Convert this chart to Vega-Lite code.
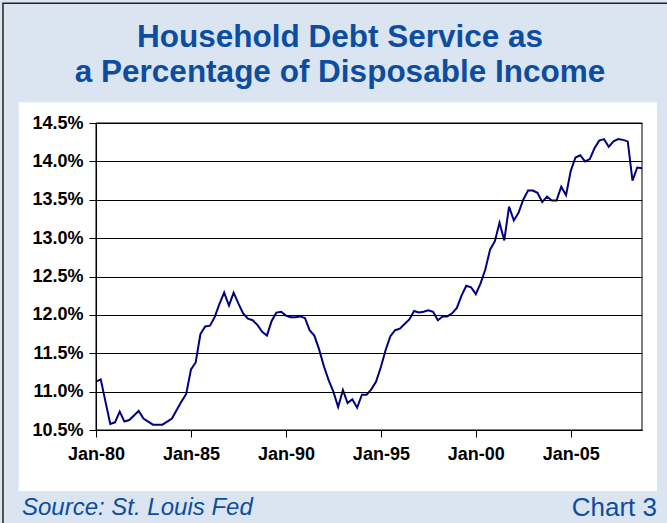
{
  "$schema": "https://vega.github.io/schema/vega-lite/v6.json",
  "width": 546,
  "height": 307,
  "autosize": {"type": "none"},
  "padding": {"left": 96, "top": 123, "right": 25, "bottom": 93},
  "background": "#dbe5f1",
  "title": {
    "text": ["Household Debt Service as", "a Percentage of Disposable Income"],
    "font": "Liberation Sans",
    "fontSize": 31.5,
    "fontWeight": "bold",
    "color": "#0c4da2",
    "anchor": "middle",
    "frame": "group",
    "dx": -29,
    "lineHeight": 35,
    "offset": -86
  },
  "config": {
    "view": {"stroke": null, "fill": "white"},
    "axis": {
      "labelFont": "Liberation Sans",
      "labelFontWeight": "bold",
      "labelFontSize": 18,
      "labelColor": "black",
      "labelOverlap": false,
      "labelFlush": false,
      "domainColor": "black",
      "tickColor": "black",
      "tickSize": 7,
      "gridColor": "black",
      "gridOpacity": 1,
      "gridWidth": 1,
      "title": null
    }
  },
  "resolve": {"scale": {"x": "independent", "y": "independent"}},
  "datasets": {
    "dsr": [
      {"date": "1980-01-01", "dsr": 11.13}, {"date": "1980-04-01", "dsr": 11.16}, {"date": "1980-07-01", "dsr": 10.87}, {"date": "1980-10-01", "dsr": 10.58},
      {"date": "1981-01-01", "dsr": 10.60}, {"date": "1981-04-01", "dsr": 10.74}, {"date": "1981-07-01", "dsr": 10.61}, {"date": "1981-10-01", "dsr": 10.63},
      {"date": "1982-01-01", "dsr": 10.69}, {"date": "1982-04-01", "dsr": 10.75}, {"date": "1982-07-01", "dsr": 10.65}, {"date": "1982-10-01", "dsr": 10.61},
      {"date": "1983-01-01", "dsr": 10.57}, {"date": "1983-04-01", "dsr": 10.57}, {"date": "1983-07-01", "dsr": 10.57}, {"date": "1983-10-01", "dsr": 10.61},
      {"date": "1984-01-01", "dsr": 10.65}, {"date": "1984-04-01", "dsr": 10.76}, {"date": "1984-07-01", "dsr": 10.87}, {"date": "1984-10-01", "dsr": 10.97},
      {"date": "1985-01-01", "dsr": 11.29}, {"date": "1985-04-01", "dsr": 11.38}, {"date": "1985-07-01", "dsr": 11.75}, {"date": "1985-10-01", "dsr": 11.85},
      {"date": "1986-01-01", "dsr": 11.86}, {"date": "1986-04-01", "dsr": 11.97}, {"date": "1986-07-01", "dsr": 12.14}, {"date": "1986-10-01", "dsr": 12.29},
      {"date": "1987-01-01", "dsr": 12.12}, {"date": "1987-04-01", "dsr": 12.29}, {"date": "1987-07-01", "dsr": 12.15}, {"date": "1987-10-01", "dsr": 12.02},
      {"date": "1988-01-01", "dsr": 11.95}, {"date": "1988-04-01", "dsr": 11.93}, {"date": "1988-07-01", "dsr": 11.87}, {"date": "1988-10-01", "dsr": 11.78},
      {"date": "1989-01-01", "dsr": 11.73}, {"date": "1989-04-01", "dsr": 11.92}, {"date": "1989-07-01", "dsr": 12.03}, {"date": "1989-10-01", "dsr": 12.04},
      {"date": "1990-01-01", "dsr": 11.99}, {"date": "1990-04-01", "dsr": 11.97}, {"date": "1990-07-01", "dsr": 11.97}, {"date": "1990-10-01", "dsr": 11.98},
      {"date": "1991-01-01", "dsr": 11.96}, {"date": "1991-04-01", "dsr": 11.80}, {"date": "1991-07-01", "dsr": 11.73}, {"date": "1991-10-01", "dsr": 11.55},
      {"date": "1992-01-01", "dsr": 11.33}, {"date": "1992-04-01", "dsr": 11.15}, {"date": "1992-07-01", "dsr": 11.00}, {"date": "1992-10-01", "dsr": 10.80},
      {"date": "1993-01-01", "dsr": 11.02}, {"date": "1993-04-01", "dsr": 10.85}, {"date": "1993-07-01", "dsr": 10.90}, {"date": "1993-10-01", "dsr": 10.79},
      {"date": "1994-01-01", "dsr": 10.96}, {"date": "1994-04-01", "dsr": 10.96}, {"date": "1994-07-01", "dsr": 11.03}, {"date": "1994-10-01", "dsr": 11.13},
      {"date": "1995-01-01", "dsr": 11.32}, {"date": "1995-04-01", "dsr": 11.54}, {"date": "1995-07-01", "dsr": 11.72}, {"date": "1995-10-01", "dsr": 11.80},
      {"date": "1996-01-01", "dsr": 11.82}, {"date": "1996-04-01", "dsr": 11.88}, {"date": "1996-07-01", "dsr": 11.94}, {"date": "1996-10-01", "dsr": 12.05},
      {"date": "1997-01-01", "dsr": 12.03}, {"date": "1997-04-01", "dsr": 12.04}, {"date": "1997-07-01", "dsr": 12.06}, {"date": "1997-10-01", "dsr": 12.04},
      {"date": "1998-01-01", "dsr": 11.93}, {"date": "1998-04-01", "dsr": 11.98}, {"date": "1998-07-01", "dsr": 11.98}, {"date": "1998-10-01", "dsr": 12.02},
      {"date": "1999-01-01", "dsr": 12.09}, {"date": "1999-04-01", "dsr": 12.25}, {"date": "1999-07-01", "dsr": 12.38}, {"date": "1999-10-01", "dsr": 12.36},
      {"date": "2000-01-01", "dsr": 12.27}, {"date": "2000-04-01", "dsr": 12.41}, {"date": "2000-07-01", "dsr": 12.59}, {"date": "2000-10-01", "dsr": 12.85},
      {"date": "2001-01-01", "dsr": 12.96}, {"date": "2001-04-01", "dsr": 13.20}, {"date": "2001-07-01", "dsr": 12.97}, {"date": "2001-10-01", "dsr": 13.41},
      {"date": "2002-01-01", "dsr": 13.23}, {"date": "2002-04-01", "dsr": 13.33}, {"date": "2002-07-01", "dsr": 13.50}, {"date": "2002-10-01", "dsr": 13.62},
      {"date": "2003-01-01", "dsr": 13.62}, {"date": "2003-04-01", "dsr": 13.59}, {"date": "2003-07-01", "dsr": 13.47}, {"date": "2003-10-01", "dsr": 13.54},
      {"date": "2004-01-01", "dsr": 13.49}, {"date": "2004-04-01", "dsr": 13.49}, {"date": "2004-07-01", "dsr": 13.67}, {"date": "2004-10-01", "dsr": 13.56},
      {"date": "2005-01-01", "dsr": 13.88}, {"date": "2005-04-01", "dsr": 14.05}, {"date": "2005-07-01", "dsr": 14.08}, {"date": "2005-10-01", "dsr": 14.00},
      {"date": "2006-01-01", "dsr": 14.03}, {"date": "2006-04-01", "dsr": 14.17}, {"date": "2006-07-01", "dsr": 14.27}, {"date": "2006-10-01", "dsr": 14.29},
      {"date": "2007-01-01", "dsr": 14.19}, {"date": "2007-04-01", "dsr": 14.26}, {"date": "2007-07-01", "dsr": 14.29}, {"date": "2007-10-01", "dsr": 14.28},
      {"date": "2008-01-01", "dsr": 14.26}, {"date": "2008-04-01", "dsr": 13.75}, {"date": "2008-07-01", "dsr": 13.92}, {"date": "2008-10-01", "dsr": 13.91}
    ]
  },
  "layer": [
    {
      "data": {"values": [{"panel": "outer border"}]},
      "mark": {"type": "rect", "fill": null, "stroke": "#222222", "strokeWidth": 1.5, "clip": false},
      "encoding": {
        "x": {"datum": {"year": 1975, "month": 2, "date": 7, "utc": true}, "type": "temporal", "axis": null,
              "scale": {"type": "utc", "domain": [{"year": 1980, "month": 1, "date": 1, "utc": true}, {"year": 2008, "month": 10, "date": 1, "utc": true}]}},
        "x2": {"datum": {"year": 2012, "month": 1, "date": 1, "utc": true}},
        "y": {"datum": 16.06, "type": "quantitative", "axis": null, "scale": {"domain": [10.5, 14.5], "nice": false, "zero": false}},
        "y2": {"datum": 8.5}
      }
    },
    {
      "data": {"values": [{"panel": "white"}]},
      "mark": {"type": "rect", "fill": "white", "clip": false},
      "encoding": {
        "x": {"datum": {"year": 1975, "month": 12, "date": 7, "utc": true}, "type": "temporal", "axis": null,
              "scale": {"type": "utc", "domain": [{"year": 1980, "month": 1, "date": 1, "utc": true}, {"year": 2008, "month": 10, "date": 1, "utc": true}]}},
        "x2": {"datum": {"year": 2009, "month": 7, "date": 16, "utc": true}},
        "y": {"datum": 14.77, "type": "quantitative", "axis": null, "scale": {"domain": [10.5, 14.5], "nice": false, "zero": false}},
        "y2": {"datum": 9.705}
      }
    },
    {
      "data": {"name": "dsr"},
      "mark": {"type": "line", "color": "#000080", "strokeWidth": 2, "clip": false},
      "encoding": {
        "x": {
          "field": "date", "type": "temporal",
          "scale": {"type": "utc", "domain": [{"year": 1980, "month": 1, "date": 1, "utc": true}, {"year": 2008, "month": 10, "date": 1, "utc": true}]},
          "axis": {
            "values": [
              {"year": 1980, "month": 1, "date": 1, "utc": true},
              {"year": 1985, "month": 1, "date": 1, "utc": true},
              {"year": 1990, "month": 1, "date": 1, "utc": true},
              {"year": 1995, "month": 1, "date": 1, "utc": true},
              {"year": 2000, "month": 1, "date": 1, "utc": true},
              {"year": 2005, "month": 1, "date": 1, "utc": true}
            ],
            "format": "%b-%y",
            "grid": false,
            "labelPadding": 8,
            "zindex": 1
          }
        },
        "y": {
          "field": "dsr", "type": "quantitative",
          "scale": {"domain": [10.5, 14.5], "nice": false, "zero": false},
          "axis": {
            "values": [10.5, 11, 11.5, 12, 12.5, 13, 13.5, 14, 14.5],
            "labelExpr": "format(datum.value, '.1f') + '%'",
            "grid": true,
            "labelPadding": 6,
            "zindex": 1
          }
        }
      }
    },
    {
      "data": {"values": [{"panel": "frame"}]},
      "mark": {"type": "rect", "fill": null, "stroke": "black", "strokeWidth": 1, "clip": false},
      "encoding": {
        "x": {"datum": {"year": 1980, "month": 1, "date": 1, "utc": true}, "type": "temporal", "axis": null,
              "scale": {"type": "utc", "domain": [{"year": 1980, "month": 1, "date": 1, "utc": true}, {"year": 2008, "month": 10, "date": 1, "utc": true}]}},
        "x2": {"datum": {"year": 2008, "month": 10, "date": 1, "utc": true}},
        "y": {"datum": 14.5, "type": "quantitative", "axis": null, "scale": {"domain": [10.5, 14.5], "nice": false, "zero": false}},
        "y2": {"datum": 10.5}
      }
    },
    {
      "data": {"values": [{"label": "Source: St. Louis Fed"}]},
      "mark": {"type": "text", "align": "left", "baseline": "middle", "font": "Liberation Sans", "fontStyle": "italic", "fontSize": 24, "color": "#0c4da2", "clip": false},
      "encoding": {
        "x": {"datum": {"year": 1976, "month": 2, "date": 7, "utc": true}, "type": "temporal", "axis": null,
              "scale": {"type": "utc", "domain": [{"year": 1980, "month": 1, "date": 1, "utc": true}, {"year": 2008, "month": 10, "date": 1, "utc": true}]}},
        "y": {"datum": 9.48, "type": "quantitative", "axis": null, "scale": {"domain": [10.5, 14.5], "nice": false, "zero": false}},
        "text": {"field": "label"}
      }
    },
    {
      "data": {"values": [{"label": "Chart 3"}]},
      "mark": {"type": "text", "align": "right", "baseline": "middle", "font": "Liberation Sans", "fontSize": 26, "color": "#0c4da2", "clip": false},
      "encoding": {
        "x": {"datum": {"year": 2009, "month": 7, "date": 16, "utc": true}, "type": "temporal", "axis": null,
              "scale": {"type": "utc", "domain": [{"year": 1980, "month": 1, "date": 1, "utc": true}, {"year": 2008, "month": 10, "date": 1, "utc": true}]}},
        "y": {"datum": 9.48, "type": "quantitative", "axis": null, "scale": {"domain": [10.5, 14.5], "nice": false, "zero": false}},
        "text": {"field": "label"}
      }
    }
  ]
}
